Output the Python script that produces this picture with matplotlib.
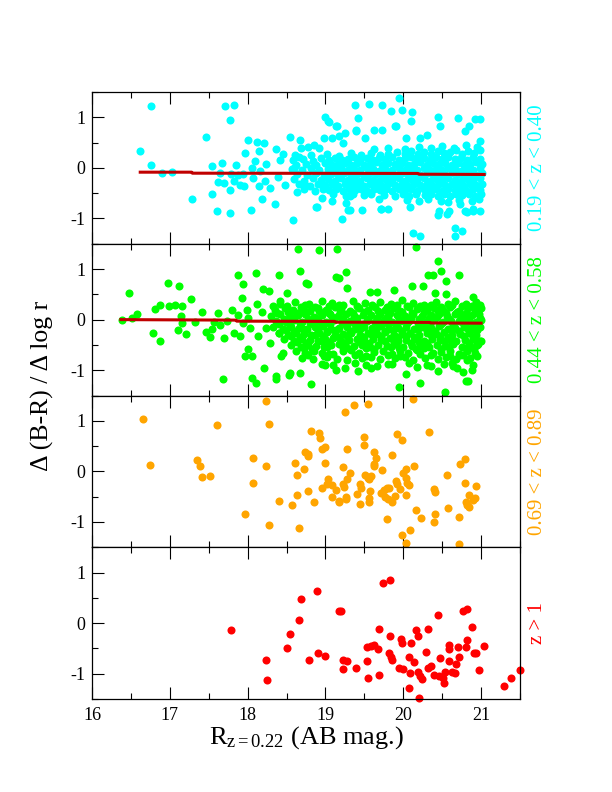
import numpy as np
import matplotlib
matplotlib.use("Agg")
import matplotlib.pyplot as plt
from matplotlib.ticker import MultipleLocator

plt.rcParams['font.family'] = ['Liberation Serif', 'DejaVu Serif']
plt.rcParams['mathtext.fontset'] = 'custom'
plt.rcParams['mathtext.rm'] = 'Liberation Serif'
plt.rcParams['mathtext.it'] = 'Liberation Serif:italic'
plt.rcParams['axes.unicode_minus'] = False

# panel labels and colours
labels = ['0.19 < z < 0.40', '0.44 < z < 0.58', '0.69 < z < 0.89', 'z > 1']
colors = ['#00ffff', '#00ff00', '#ffa500', '#ff0000']

# 0.19 < z < 0.40 : scattered points
pts_1_out = [
    (16.62, 0.33), (16.76, 1.23), (16.76, 0.05), (16.90, -0.10), (17.03, -0.08), (17.29, -0.62),
    (17.46, 0.61), (17.54, 0.03), (17.54, -0.51), (17.60, -0.86), (17.62, -0.27), (17.65, -0.10),
    (17.67, 0.10), (17.69, -0.30), (17.71, 1.23), (17.77, 0.95), (17.77, -0.89), (17.77, -0.44),
    (17.78, -0.13), (17.82, 1.25), (17.82, -0.26), (17.85, 0.05), (17.87, -0.14), (17.90, -0.33),
    (17.94, -0.13), (17.95, -0.36), (17.97, 0.29), (18.01, 0.56), (18.04, -0.84), (18.05, 0.00),
    (18.07, -0.20), (18.09, 0.14), (18.12, 0.51), (18.14, -0.36), (18.15, 0.33), (18.16, -0.07),
    (18.19, -0.62), (18.21, 0.49), (18.22, -0.26), (18.24, 0.07), (18.29, -0.39), (18.35, -0.71),
    (18.36, 0.38), (18.39, -0.18), (18.42, 0.16), (18.45, 0.27), (18.48, -0.33), (18.55, 0.62),
    (18.58, -1.03), (18.59, 0.00), (18.61, 0.26), (18.64, -0.47), (18.67, 0.56), (18.68, 0.39),
    (18.74, -0.33), (18.77, 0.42), (18.85, 0.46), (18.88, -0.77), (18.92, 0.39), (18.96, -0.59),
    (18.98, 0.59), (19.03, 0.93), (19.08, -0.65), (19.09, 0.59), (19.14, 0.82), (19.17, 0.64),
    (19.21, -1.02), (19.22, 0.49), (19.25, 0.69), (19.26, -0.69), (19.29, -0.84), (19.32, -0.56),
    (19.38, 1.25), (19.39, 0.72), (19.42, 0.99), (19.47, -0.84), (19.51, 0.59), (19.56, 1.27),
    (19.62, 0.75), (19.69, -0.62), (19.73, 1.24), (19.72, -0.82), (19.73, 0.75), (19.81, -0.82),
    (19.84, 1.13), (19.91, 0.82), (19.95, 1.38), (19.99, 1.15), (20.04, 0.59), (20.09, -0.77),
    (20.10, 0.93), (20.11, 1.11), (20.12, -1.29), (20.22, -1.34), (20.22, 0.59), (20.30, 0.65),
    (20.45, 1.01), (20.44, -0.93), (20.47, 0.82), (20.56, -0.92), (20.70, 0.98), (20.67, -1.18),
    (20.67, -1.34), (20.76, -1.24), (20.79, 0.72), (20.85, 0.82), (20.92, 0.97), (20.99, 0.97),
    (20.99, 0.54), (20.99, -0.85), (20.90, -0.85), (20.82, -0.88), (20.73, -0.72), (19.04, 0.91),
    (19.15, 0.83), (19.39, 0.74), (19.90, 0.83), (18.89, -0.77), (19.32, -0.84), (19.71, -0.81),
    (20.46, -0.86), (20.79, -0.85), (20.89, -0.81), (20.59, -0.85), (19.00, 1.00),
]

# 0.19 < z < 0.40 : the crowded middle of the cloud
pts_1_core = [
    (19.62, 0.38), (19.80, 0.40), (20.02, 0.37), (20.20, 0.41), (20.35, 0.39), (20.50, 0.43),
    (20.65, 0.40), (20.80, 0.45), (20.95, 0.42),
    (18.66, 0.22), (18.81, 0.25), (19.02, 0.27), (19.18, 0.24), (19.33, 0.29), (19.46, 0.26),
    (19.58, 0.30), (19.70, 0.25), (19.81, 0.28), (19.92, 0.31), (20.02, 0.27), (20.10, 0.33),
    (20.19, 0.28), (20.27, 0.32), (20.36, 0.27), (20.44, 0.34), (20.52, 0.29), (20.60, 0.31),
    (20.68, 0.36), (20.75, 0.28), (20.83, 0.33), (20.91, 0.30), (20.99, 0.35),
    (18.58, 0.15), (18.71, 0.18), (18.84, 0.14), (18.94, 0.19), (19.04, 0.16), (19.12, 0.20),
    (19.21, 0.15), (19.29, 0.18), (19.37, 0.21), (19.45, 0.16), (19.53, 0.19), (19.61, 0.15),
    (19.69, 0.20), (19.77, 0.17), (19.86, 0.21), (19.94, 0.16), (20.02, 0.19), (20.10, 0.22),
    (20.18, 0.17), (20.26, 0.20), (20.34, 0.16), (20.42, 0.21), (20.50, 0.18), (20.58, 0.22),
    (20.66, 0.17), (20.74, 0.20), (20.82, 0.16), (20.90, 0.21), (20.98, 0.18),
    (18.62, 0.05), (18.75, 0.08), (18.88, 0.06), (18.99, 0.09), (19.08, 0.05), (19.16, 0.08),
    (19.25, 0.10), (19.33, 0.06), (19.41, 0.09), (19.49, 0.05), (19.57, 0.08), (19.65, 0.11),
    (19.73, 0.06), (19.81, 0.09), (19.90, 0.07), (19.98, 0.10), (20.06, 0.05), (20.14, 0.08),
    (20.22, 0.11), (20.30, 0.06), (20.38, 0.09), (20.46, 0.07), (20.54, 0.10), (20.62, 0.06),
    (20.70, 0.09), (20.78, 0.05), (20.86, 0.08), (20.94, 0.11), (21.01, 0.07),
    (18.57, -0.02), (18.70, -0.05), (18.81, -0.01), (18.92, -0.04), (19.03, -0.02), (19.12, -0.05),
    (19.20, -0.01), (19.29, -0.04), (19.37, -0.02), (19.45, -0.05), (19.53, -0.01), (19.61, -0.03),
    (19.69, -0.06), (19.77, -0.02), (19.85, -0.04), (19.94, -0.01), (20.02, -0.05), (20.10, -0.02),
    (20.18, -0.04), (20.26, -0.01), (20.34, -0.05), (20.42, -0.02), (20.50, -0.04), (20.58, -0.01),
    (20.66, -0.03), (20.74, -0.06), (20.82, -0.02), (20.90, -0.04), (20.98, -0.01),
    (18.63, -0.12), (18.76, -0.15), (18.88, -0.11), (18.98, -0.14), (19.07, -0.12), (19.16, -0.15),
    (19.24, -0.11), (19.33, -0.14), (19.41, -0.12), (19.49, -0.16), (19.57, -0.11), (19.65, -0.13),
    (19.73, -0.15), (19.81, -0.12), (19.89, -0.14), (19.98, -0.11), (20.06, -0.15), (20.14, -0.12),
    (20.22, -0.14), (20.30, -0.11), (20.38, -0.15), (20.46, -0.12), (20.54, -0.14), (20.62, -0.11),
    (20.70, -0.13), (20.78, -0.16), (20.86, -0.12), (20.94, -0.14), (21.01, -0.11),
    (18.59, -0.22), (18.72, -0.25), (18.84, -0.21), (18.94, -0.24), (19.03, -0.22), (19.12, -0.25),
    (19.20, -0.21), (19.29, -0.24), (19.37, -0.22), (19.45, -0.26), (19.53, -0.21), (19.61, -0.23),
    (19.69, -0.25), (19.77, -0.22), (19.85, -0.24), (19.94, -0.21), (20.02, -0.25), (20.10, -0.22),
    (20.18, -0.24), (20.26, -0.21), (20.34, -0.25), (20.42, -0.22), (20.50, -0.24), (20.58, -0.21),
    (20.66, -0.23), (20.74, -0.26), (20.82, -0.22), (20.90, -0.24), (20.98, -0.21),
    (18.66, -0.32), (18.80, -0.35), (18.91, -0.31), (19.00, -0.34), (19.08, -0.32), (19.16, -0.35),
    (19.25, -0.31), (19.33, -0.34), (19.41, -0.32), (19.49, -0.36), (19.57, -0.31), (19.65, -0.33),
    (19.73, -0.35), (19.81, -0.32), (19.89, -0.34), (19.98, -0.31), (20.06, -0.35), (20.14, -0.32),
    (20.22, -0.34), (20.30, -0.31), (20.38, -0.35), (20.46, -0.32), (20.54, -0.34), (20.62, -0.31),
    (20.70, -0.33), (20.78, -0.36), (20.86, -0.32), (20.94, -0.34), (21.01, -0.31),
    (18.72, -0.42), (18.86, -0.45), (18.97, -0.41), (19.05, -0.44), (19.13, -0.42), (19.22, -0.46),
    (19.30, -0.41), (19.38, -0.44), (19.46, -0.42), (19.54, -0.45), (19.62, -0.41), (19.70, -0.44),
    (19.78, -0.42), (19.86, -0.46), (19.94, -0.41), (20.02, -0.44), (20.10, -0.42), (20.18, -0.45),
    (20.26, -0.41), (20.34, -0.44), (20.42, -0.42), (20.50, -0.46), (20.58, -0.41), (20.66, -0.44),
    (20.74, -0.42), (20.82, -0.45), (20.90, -0.41), (20.98, -0.44),
    (19.10, -0.52), (19.26, -0.55), (19.36, -0.51), (19.50, -0.54), (19.58, -0.52), (19.75, -0.53),
    (19.90, -0.55), (20.00, -0.52), (20.08, -0.55), (20.16, -0.51), (20.28, -0.54), (20.36, -0.52),
    (20.44, -0.56), (20.52, -0.52), (20.60, -0.55), (20.68, -0.51), (20.76, -0.54), (20.84, -0.52),
    (20.92, -0.56), (21.00, -0.52),
    (20.05, -0.63), (20.20, -0.66), (20.32, -0.62), (20.48, -0.65), (20.57, -0.68), (20.72, -0.63),
    (20.88, -0.66), (20.97, -0.62),
]

# 0.44 < z < 0.58 : scattered points
pts_2_out = [
    (16.39, 0.00), (16.47, 0.52), (16.52, 0.03), (16.58, 0.12), (16.79, -0.26), (16.81, 0.21),
    (16.87, 0.29), (16.88, -0.42), (16.98, 0.72), (16.99, 0.27), (17.07, 0.29), (17.10, -0.20),
    (17.12, 0.67), (17.14, 0.07), (17.16, 0.26), (17.16, -0.07), (17.21, -0.29), (17.27, 0.41),
    (17.32, -0.05), (17.41, 0.16), (17.46, -0.25), (17.52, -0.34), (17.54, -0.18), (17.57, -0.05),
    (17.62, 0.13), (17.65, -0.10), (17.68, -1.18), (17.70, -0.36), (17.73, -0.03), (17.80, 0.20),
    (17.82, -0.26), (17.87, 0.89), (17.88, 0.10), (17.90, -0.33), (17.93, 0.43), (17.94, -0.07),
    (17.94, 0.71), (17.96, -0.71), (17.99, 0.20), (18.01, 0.03), (18.01, -0.59), (18.03, -0.16),
    (18.05, -0.72), (18.06, -1.15), (18.11, -1.26), (18.11, 0.92), (18.12, 0.30), (18.13, -0.33),
    (18.18, 0.16), (18.20, 0.61), (18.21, -0.95), (18.24, -0.16), (18.27, 0.56), (18.29, -0.47),
    (18.33, 0.26), (18.37, -1.12), (18.37, -1.18), (18.40, -0.26), (18.40, 0.89), (18.42, 0.36),
    (18.43, -0.72), (18.46, -0.66), (18.50, 0.53), (18.53, -1.09), (18.65, 1.39), (18.67, 0.97),
    (18.71, 0.20), (18.75, 0.72), (18.82, -1.28), (18.92, 1.37), (19.15, 1.39), (19.14, 0.84),
    (19.18, 0.82), (19.26, 0.95), (19.28, 0.62), (18.78, 0.71), (19.57, 0.54), (19.66, 0.55),
    (19.88, 0.58), (20.11, 0.67), (20.25, 0.67), (20.32, 0.89), (20.38, 0.88), (20.45, 1.15),
    (20.49, 0.97), (20.55, 0.76), (20.72, 0.89), (20.41, 0.52), (20.55, 0.50), (20.89, 0.45),
    (20.96, 0.29), (19.95, -1.33), (20.22, -1.25), (20.03, -1.08), (20.81, -1.22), (20.83, -1.22),
    (20.54, -1.43), (20.77, -1.03), (20.88, -0.99), (21.00, -0.43), (20.96, -0.49), (20.45, -1.01),
    (20.36, -0.92), (20.18, -0.94), (19.85, -0.88), (19.58, -0.96), (19.42, -1.02), (19.25, -0.96),
    (19.14, -0.99), (19.00, -0.89), (18.67, -1.05), (18.55, -1.05), (20.64, -0.92), (20.69, -0.96),
    (20.82, -0.80), (20.73, -0.70), (20.16, 1.44),
]

# 0.44 < z < 0.58 : the crowded middle of the cloud
pts_2_core = [
    (18.42, 0.31), (18.61, 0.35), (18.79, 0.30), (18.95, 0.37), (19.08, 0.33), (19.22, 0.29),
    (19.35, 0.36), (19.51, 0.32), (19.70, 0.34), (19.84, 0.30), (19.99, 0.38), (20.12, 0.33),
    (20.27, 0.29), (20.42, 0.35), (20.58, 0.31), (20.66, 0.36), (20.80, 0.30), (20.93, 0.34),
    (18.35, 0.19), (18.48, 0.23), (18.58, 0.20), (18.69, 0.24), (18.80, 0.18), (18.90, 0.22),
    (19.01, 0.19), (19.12, 0.25), (19.20, 0.21), (19.31, 0.18), (19.43, 0.23), (19.55, 0.20),
    (19.64, 0.24), (19.76, 0.19), (19.88, 0.22), (19.96, 0.18), (20.07, 0.25), (20.18, 0.21),
    (20.30, 0.19), (20.39, 0.23), (20.51, 0.20), (20.60, 0.24), (20.71, 0.18), (20.83, 0.22),
    (20.92, 0.19), (21.00, 0.23),
    (18.30, 0.08), (18.42, 0.11), (18.54, 0.07), (18.65, 0.10), (18.74, 0.12), (18.85, 0.06),
    (18.96, 0.09), (19.06, 0.11), (19.16, 0.08), (19.26, 0.12), (19.37, 0.07), (19.48, 0.10),
    (19.59, 0.09), (19.70, 0.12), (19.81, 0.06), (19.92, 0.10), (20.02, 0.08), (20.13, 0.11),
    (20.24, 0.07), (20.35, 0.10), (20.46, 0.12), (20.56, 0.08), (20.66, 0.11), (20.77, 0.07),
    (20.88, 0.09), (20.97, 0.12),
    (18.36, -0.02), (18.49, -0.05), (18.60, -0.01), (18.70, -0.04), (18.80, -0.06), (18.91, -0.02),
    (19.01, -0.04), (19.11, -0.01), (19.21, -0.05), (19.32, -0.03), (19.42, -0.06), (19.53, -0.02),
    (19.64, -0.04), (19.75, -0.01), (19.86, -0.05), (19.97, -0.03), (20.08, -0.02), (20.19, -0.06),
    (20.29, -0.04), (20.40, -0.01), (20.51, -0.05), (20.61, -0.03), (20.72, -0.02), (20.82, -0.05),
    (20.93, -0.04), (21.00, -0.01),
    (18.32, -0.15), (18.45, -0.18), (18.56, -0.14), (18.66, -0.17), (18.76, -0.19), (18.86, -0.15),
    (18.97, -0.13), (19.07, -0.18), (19.17, -0.16), (19.28, -0.14), (19.38, -0.19), (19.49, -0.15),
    (19.60, -0.17), (19.71, -0.13), (19.82, -0.18), (19.93, -0.16), (20.03, -0.14), (20.14, -0.19),
    (20.25, -0.15), (20.36, -0.17), (20.46, -0.13), (20.57, -0.18), (20.67, -0.16), (20.78, -0.14),
    (20.88, -0.19), (20.98, -0.15),
    (18.40, -0.27), (18.52, -0.30), (18.62, -0.26), (18.72, -0.29), (18.82, -0.31), (18.92, -0.27),
    (19.02, -0.25), (19.12, -0.30), (19.23, -0.28), (19.33, -0.26), (19.44, -0.31), (19.55, -0.27),
    (19.66, -0.29), (19.77, -0.25), (19.88, -0.30), (19.99, -0.28), (20.09, -0.26), (20.20, -0.31),
    (20.31, -0.27), (20.42, -0.29), (20.52, -0.25), (20.63, -0.30), (20.73, -0.28), (20.84, -0.26),
    (20.94, -0.31),
    (18.47, -0.39), (18.60, -0.42), (18.70, -0.38), (18.80, -0.41), (18.90, -0.43), (19.00, -0.39),
    (19.10, -0.37), (19.20, -0.42), (19.30, -0.40), (19.40, -0.38), (19.50, -0.43), (19.61, -0.39),
    (19.72, -0.41), (19.83, -0.37), (19.93, -0.42), (20.04, -0.40), (20.15, -0.38), (20.26, -0.43),
    (20.37, -0.39), (20.47, -0.41), (20.58, -0.37), (20.68, -0.42), (20.79, -0.40), (20.90, -0.38),
    (20.99, -0.43),
    (18.56, -0.51), (18.68, -0.54), (18.78, -0.50), (18.88, -0.53), (18.98, -0.55), (19.07, -0.51),
    (19.17, -0.49), (19.27, -0.54), (19.37, -0.52), (19.47, -0.50), (19.57, -0.55), (19.68, -0.51),
    (19.79, -0.53), (19.90, -0.49), (20.00, -0.54), (20.11, -0.52), (20.22, -0.50), (20.33, -0.55),
    (20.43, -0.51), (20.54, -0.53), (20.64, -0.49), (20.75, -0.54), (20.86, -0.52), (20.95, -0.50),
    (18.62, -0.63), (18.74, -0.66), (18.85, -0.62), (18.95, -0.65), (19.05, -0.67), (19.22, -0.63),
    (19.33, -0.61), (19.43, -0.66), (19.62, -0.64), (19.74, -0.62), (19.85, -0.67), (19.96, -0.63),
    (20.06, -0.65), (20.17, -0.61), (20.38, -0.66), (20.49, -0.64), (20.60, -0.62), (20.71, -0.67),
    (20.82, -0.63), (20.92, -0.65),
    (18.70, -0.75), (18.84, -0.78), (19.02, -0.74), (19.15, -0.77), (19.28, -0.79), (19.47, -0.75),
    (19.58, -0.73), (19.70, -0.78), (19.90, -0.76), (20.02, -0.74), (20.13, -0.79), (20.28, -0.75),
    (20.45, -0.77), (20.55, -0.73), (20.68, -0.78), (20.86, -0.76),
    (18.95, -0.87), (19.10, -0.90), (19.38, -0.86), (19.52, -0.89), (19.66, -0.91), (19.80, -0.87),
    (20.08, -0.85), (20.30, -0.90), (20.52, -0.88), (20.62, -0.86), (20.90, -0.89),
]

# 0.44 < z < 0.58 : points between the rows above
pts_2_fill = [
    (18.50, 0.27), (18.74, 0.28), (18.87, 0.25), (19.05, 0.27), (19.17, 0.29), (19.40, 0.26),
    (19.60, 0.28), (19.79, 0.25), (19.92, 0.29), (20.05, 0.27), (20.22, 0.26), (20.35, 0.28),
    (20.48, 0.25), (20.63, 0.29), (20.75, 0.27), (20.88, 0.26), (20.98, 0.28),
    (18.38, 0.14), (18.52, 0.16), (18.63, 0.13), (18.76, 0.15), (18.92, 0.17), (19.04, 0.14),
    (19.19, 0.16), (19.35, 0.13), (19.50, 0.15), (19.68, 0.17), (19.83, 0.14), (19.99, 0.16),
    (20.11, 0.13), (20.27, 0.15), (20.44, 0.17), (20.55, 0.14), (20.69, 0.16), (20.80, 0.13),
    (20.95, 0.15),
    (18.47, 0.02), (18.58, 0.04), (18.78, 0.01), (18.88, 0.03), (19.09, 0.05), (19.23, 0.02),
    (19.40, 0.04), (19.55, 0.01), (19.66, 0.03), (19.79, 0.05), (19.94, 0.02), (20.10, 0.04),
    (20.20, 0.01), (20.33, 0.03), (20.43, 0.05), (20.59, 0.02), (20.74, 0.04), (20.85, 0.01),
    (20.99, 0.03),
    (18.40, -0.08), (18.54, -0.10), (18.67, -0.07), (18.84, -0.09), (18.96, -0.11), (19.06, -0.08),
    (19.26, -0.10), (19.37, -0.07), (19.48, -0.09), (19.69, -0.11), (19.80, -0.08), (19.91, -0.10),
    (20.05, -0.07), (20.23, -0.09), (20.34, -0.11), (20.48, -0.08), (20.64, -0.10), (20.77, -0.07),
    (20.90, -0.09),
    (18.49, -0.20), (18.60, -0.22), (18.71, -0.19), (18.90, -0.21), (19.02, -0.23), (19.13, -0.20),
    (19.32, -0.22), (19.44, -0.19), (19.65, -0.21), (19.76, -0.23), (19.87, -0.20), (19.98, -0.22),
    (20.19, -0.19), (20.30, -0.21), (20.41, -0.23), (20.62, -0.20), (20.72, -0.22), (20.83, -0.19),
    (20.95, -0.21),
    (18.56, -0.32), (18.67, -0.34), (18.86, -0.31), (18.97, -0.33), (19.17, -0.35), (19.28, -0.32),
    (19.49, -0.34), (19.60, -0.31), (19.71, -0.33), (19.93, -0.35), (20.04, -0.32), (20.14, -0.34),
    (20.36, -0.31), (20.47, -0.33), (20.57, -0.35), (20.78, -0.32), (20.89, -0.34),
    (18.64, -0.44), (18.75, -0.46), (18.95, -0.43), (19.05, -0.45), (19.25, -0.47), (19.45, -0.44),
    (19.56, -0.46), (19.77, -0.43), (19.88, -0.45), (20.10, -0.47), (20.20, -0.44), (20.31, -0.46),
    (20.53, -0.43), (20.63, -0.45), (20.84, -0.47), (20.95, -0.44),
    (18.72, -0.56), (18.83, -0.58), (19.02, -0.55), (19.22, -0.57), (19.32, -0.59), (19.52, -0.56),
    (19.63, -0.58), (19.84, -0.55), (19.95, -0.57), (20.16, -0.59), (20.27, -0.56), (20.48, -0.58),
    (20.59, -0.55), (20.80, -0.57), (20.91, -0.59),
    (18.78, -0.69), (18.98, -0.71), (19.10, -0.68), (19.38, -0.70), (19.52, -0.72), (19.80, -0.69),
    (19.96, -0.71), (20.22, -0.68), (20.35, -0.70), (20.60, -0.72), (20.77, -0.69), (20.95, -0.71),
]

# 0.69 < z < 0.89
pts_3 = [
    (16.65, 1.04), (16.74, 0.12), (17.35, 0.22), (17.39, 0.10), (17.41, -0.12), (17.51, -0.10),
    (17.61, 0.92), (17.97, -0.84), (18.07, 0.26), (18.07, -0.22), (18.23, 0.10), (18.24, 1.39),
    (18.28, 0.94), (18.28, -1.06), (18.40, -0.59), (18.57, -0.67), (18.61, 0.16), (18.64, -0.08),
    (18.64, -0.47), (18.66, -1.11), (18.72, 0.04), (18.74, 0.39), (18.77, 0.34), (18.77, -0.39),
    (18.78, 0.30), (18.82, 0.80), (18.85, -0.61), (18.92, 0.75), (18.93, 0.65), (18.95, -0.33),
    (18.96, 0.45), (18.99, 0.49), (19.00, 0.16), (19.02, -0.24), (19.03, -0.16), (19.08, -0.51),
    (19.09, -0.27), (19.14, -0.36), (19.17, -0.59), (19.18, -0.61), (19.22, -0.25), (19.23, 0.08),
    (19.24, -0.31), (19.25, 1.18), (19.26, -0.51), (19.27, -0.55), (19.28, 0.45), (19.28, -0.16),
    (19.32, -0.04), (19.37, 1.31), (19.41, -0.45), (19.44, -0.65), (19.45, -0.24), (19.46, -0.33),
    (19.50, 0.67), (19.50, 0.52), (19.51, -0.08), (19.55, 1.33), (19.55, -0.14), (19.56, -0.61),
    (19.56, -0.16), (19.56, -0.52), (19.57, -0.38), (19.59, -0.10), (19.62, 0.10), (19.62, 0.39),
    (19.63, 0.15), (19.65, 0.27), (19.72, -0.43), (19.73, 0.03), (19.75, -0.37), (19.77, -0.51),
    (19.79, -0.94), (19.79, -0.33), (19.81, -0.54), (19.82, -0.32), (19.85, 0.33), (19.86, -0.61),
    (19.89, -0.49), (19.91, -0.20), (19.92, 0.73), (19.92, -0.25), (19.96, -0.35), (19.98, 0.63),
    (19.99, -1.26), (20.00, -0.03), (20.03, 0.04), (20.03, -1.42), (20.04, -0.13), (20.04, -0.46),
    (20.05, -0.22), (20.07, -0.26), (20.09, -1.15), (20.13, 1.43), (20.14, 0.11), (20.16, -0.76),
    (20.23, -0.92), (20.33, 0.78), (20.39, -0.35), (20.40, -1.00), (20.41, -0.41), (20.41, -0.84),
    (20.56, -0.08), (20.58, -0.72), (20.71, -0.90), (20.72, -1.44), (20.73, 0.15), (20.79, 0.25),
    (20.79, -0.22), (20.80, -0.61), (20.82, -0.67), (20.84, -0.46), (20.85, -0.71), (20.90, -0.57),
    (20.92, -0.53), (20.93, -0.29),
]

# z > 1
pts_4 = [
    (17.79, -0.14), (18.24, -0.73), (18.25, -1.12), (18.51, -0.49), (18.54, -0.22), (18.66, 0.06),
    (18.69, 0.48), (18.79, -0.72), (18.89, 0.63), (18.90, -0.60), (18.99, -0.65), (19.17, 0.24),
    (19.20, 0.24), (19.23, -0.90), (19.23, -0.72), (19.28, -0.74), (19.39, -0.88), (19.53, -0.75),
    (19.54, -0.48), (19.55, -1.08), (19.59, -0.46), (19.63, -0.44), (19.67, -0.51), (19.69, -0.12),
    (19.69, -1.02), (19.74, 0.80), (19.83, 0.86), (19.83, -0.25), (19.82, -0.60), (19.84, -0.67),
    (19.86, -0.73), (19.95, -0.88), (19.97, -0.31), (19.99, -0.39), (20.00, -0.91), (20.08, -1.28),
    (20.10, -0.39), (20.08, -0.67), (20.09, -0.99), (20.14, -0.76), (20.16, -0.13), (20.19, -0.25),
    (20.19, -0.96), (20.20, -1.49), (20.22, -1.05), (20.24, -1.10), (20.29, -0.58), (20.32, -0.12),
    (20.32, -0.88), (20.36, -0.84), (20.40, -1.03), (20.44, 0.16), (20.46, -1.05), (20.47, -0.69),
    (20.51, -1.09), (20.52, -1.19), (20.54, -0.97), (20.59, -0.44), (20.59, -0.52), (20.59, -0.75),
    (20.62, -0.97), (20.66, -0.98), (20.68, -0.80), (20.70, -0.48), (20.72, -0.67), (20.77, 0.24),
    (20.81, -0.48), (20.82, 0.28), (20.82, -0.33), (20.88, -0.08), (20.91, -0.60), (20.94, -0.60),
    (20.97, -0.92), (21.04, -0.45), (21.30, -1.25), (21.39, -1.08), (21.50, -0.92),
]

# running means (red lines) for the two lower redshift bins
mean_1_x = [16.62, 17.28, 17.29, 20.19, 20.20, 21.04]
mean_1_y = [-0.085, -0.085, -0.105, -0.11, -0.125, -0.13]
mean_2_x = [16.37, 17.85, 17.86, 19.12, 19.13, 20.34, 20.35, 21.00]
mean_2_y = [0.00, -0.01, -0.03, -0.035, -0.05, -0.055, -0.065, -0.07]

panels = [pts_1_out + pts_1_core, pts_2_out + pts_2_core + pts_2_fill, pts_3, pts_4]
means = [(mean_1_x, mean_1_y), (mean_2_x, mean_2_y), None, None]

fig = plt.figure(figsize=(6.12, 7.92), dpi=100)
left, width = 92 / 612, 428 / 612
top, ph = 1 - 92 / 792, 151.75 / 792

for i in range(4):
    ax = fig.add_axes([left, top - (i + 1) * ph, width, ph])
    xy = np.array(panels[i])
    ax.plot(xy[:, 0], xy[:, 1], 'o', color=colors[i], ms=5.8, mew=0, clip_on=False, zorder=2)
    if means[i] is not None:
        ax.plot(means[i][0], means[i][1], '-', color='#c00000', lw=2.2, zorder=3)
    ax.set_xlim(16, 21.5)
    ax.set_ylim(-1.5, 1.5)
    ax.xaxis.set_major_locator(MultipleLocator(1))
    ax.xaxis.set_minor_locator(MultipleLocator(0.5))
    ax.yaxis.set_major_locator(MultipleLocator(1))
    ax.yaxis.set_minor_locator(MultipleLocator(0.5))
    ax.tick_params(which='both', direction='in', top=True, right=False, width=0.8,
                   labelsize=13)
    ax.tick_params(which='major', length=8.5)
    ax.tick_params(which='minor', length=4.3)
    ax.tick_params(axis='y', pad=5)
    ax.tick_params(axis='x', pad=6)
    for s in ax.spines.values():
        s.set_linewidth(0.9)
    if i < 3:
        ax.tick_params(labelbottom=False)
    ax.text(1.04, 0.5, labels[i], transform=ax.transAxes, rotation=90,
            ha='center', va='center', color=colors[i], fontsize=15)
    if i == 3:
        ax.set_xlabel(r'R$_{\mathrm{z=0.22}}$ (AB mag.)', fontsize=19, labelpad=0)

fig.text(0.0686, 0.5126, 'Δ (B-R) / Δ log r', rotation=90, ha='center', va='center',
         fontsize=18.5)

fig.savefig('out.png', dpi=100)
